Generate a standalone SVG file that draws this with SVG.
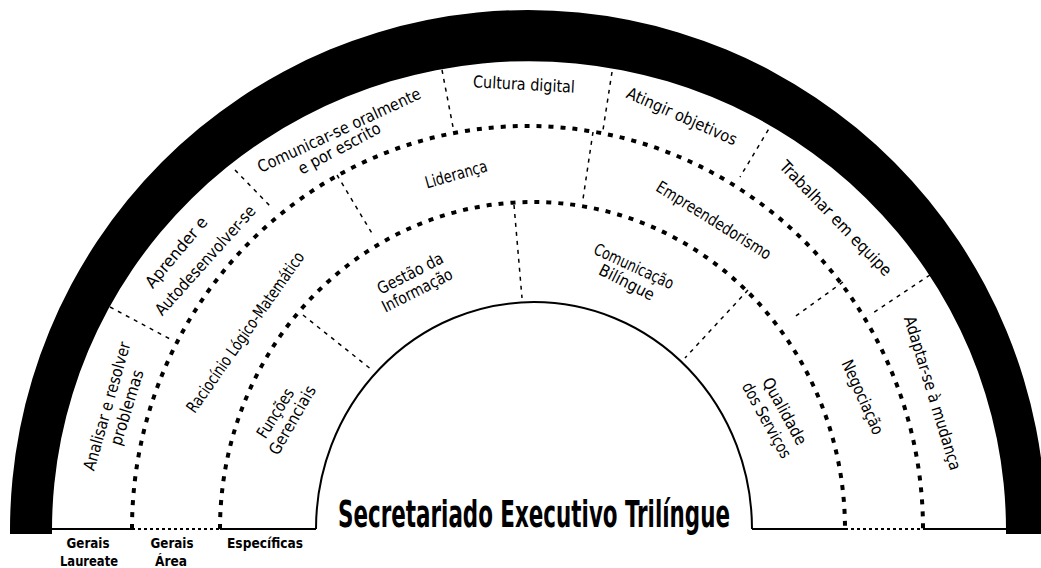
<svg xmlns="http://www.w3.org/2000/svg" width="1041" height="568" viewBox="0 0 1041 568">
<style>
.lbl{font-family:'DejaVu Sans Condensed','DejaVu Sans',sans-serif;font-stretch:condensed;font-size:16.5px;text-anchor:middle;fill:#000}
.bot{font-family:'DejaVu Sans Condensed','DejaVu Sans',sans-serif;font-stretch:condensed;font-weight:bold;font-size:13.5px;text-anchor:middle;fill:#000}
.title{font-family:'DejaVu Sans Condensed','DejaVu Sans',sans-serif;font-stretch:condensed;font-weight:bold;font-size:38px;text-anchor:middle;fill:#000}
.dots{fill:none;stroke:#000;stroke-width:4;stroke-dasharray:5 7}
.div{fill:none;stroke:#000;stroke-width:1.5;stroke-dasharray:4 5}
.solid{fill:none;stroke:#000;stroke-width:2}
.base-dash{fill:none;stroke:#000;stroke-width:2;stroke-dasharray:3 3}
</style>
<rect width="1041" height="568" fill="#fff"/>
<g id="band">
<path d="M10,534 L10,530 A518,520 0 0 1 1046,530 L1046,534 L1006,534 L1006,530 A477,469 0 0 0 52,530 L52,534 Z" fill="#000"/>
</g>
<g id="rings">
<path class="dots" d="M132,529 A395.5,403 0 0 1 923,529"/>
<path class="dots" d="M220,529 A312.5,327 0 0 1 845,529"/>
<path class="solid" d="M316,529 A218,227 0 0 1 752,529"/>
<line class="solid" x1="52" y1="529" x2="132" y2="529"/>
<line class="base-dash" x1="132" y1="529" x2="220" y2="529"/>
<line class="solid" x1="220" y1="529" x2="316" y2="529"/>
<line class="solid" x1="752" y1="529" x2="845" y2="529"/>
<line class="base-dash" x1="845" y1="529" x2="923" y2="529"/>
<line class="solid" x1="923" y1="529" x2="1006" y2="529"/>
</g>
<g id="connectors">
<line class="div" x1="110" y1="307" x2="170" y2="339"/>
<line class="div" x1="235" y1="170" x2="272" y2="208"/>
<line class="div" x1="442" y1="70" x2="453" y2="127"/>
<line class="div" x1="612" y1="72" x2="603" y2="130"/>
<line class="div" x1="773" y1="122" x2="740" y2="177"/>
<line class="div" x1="930" y1="275" x2="870" y2="315"/>
<line class="div" x1="337" y1="175" x2="373" y2="235"/>
<line class="div" x1="593" y1="132" x2="583" y2="199"/>
<line class="div" x1="843" y1="282" x2="793" y2="318"/>
<line class="div" x1="303" y1="315" x2="372" y2="370"/>
<line class="div" x1="514" y1="205" x2="522" y2="298"/>
<line class="div" x1="748" y1="290" x2="685" y2="358"/>
</g>
<g id="analisar"><text class="lbl" transform="translate(106.5,406) rotate(-74)" y="6" textLength="133" lengthAdjust="spacingAndGlyphs">Analisar e resolver</text><text class="lbl" transform="translate(126.5,407.5) rotate(-73)" y="6" textLength="78" lengthAdjust="spacingAndGlyphs">problemas</text></g>
<g id="aprender"><text class="lbl" transform="translate(176,252) rotate(-50)" y="6" textLength="87" lengthAdjust="spacingAndGlyphs">Aprender e</text><text class="lbl" transform="translate(205,260) rotate(-48)" y="6" textLength="141" lengthAdjust="spacingAndGlyphs">Autodesenvolver-se</text></g>
<g id="comunicar"><text class="lbl" transform="translate(339,130) rotate(-25)" y="6" textLength="178" lengthAdjust="spacingAndGlyphs">Comunicar-se oralmente</text><text class="lbl" transform="translate(339,148) rotate(-28)" y="6" textLength="91" lengthAdjust="spacingAndGlyphs">e por escrito</text></g>
<g id="cultura"><text class="lbl" transform="translate(524,84) rotate(3)" y="6" textLength="102" lengthAdjust="spacingAndGlyphs">Cultura digital</text></g>
<g id="atingir"><text class="lbl" transform="translate(682,116) rotate(24)" y="6" textLength="119" lengthAdjust="spacingAndGlyphs">Atingir objetivos</text></g>
<g id="trabalhar"><text class="lbl" transform="translate(836,218) rotate(46)" y="6" textLength="153" lengthAdjust="spacingAndGlyphs">Trabalhar em equipe</text></g>
<g id="adaptar"><text class="lbl" transform="translate(933,393) rotate(73)" y="6" textLength="160" lengthAdjust="spacingAndGlyphs">Adaptar-se à mudança</text></g>
<g id="raciocinio"><text class="lbl" transform="translate(245,332) rotate(-55)" y="6" textLength="192" lengthAdjust="spacingAndGlyphs">Raciocínio Lógico-Matemático</text></g>
<g id="lideranca"><text class="lbl" transform="translate(456,174) rotate(-16)" y="6" textLength="64" lengthAdjust="spacingAndGlyphs">Liderança</text></g>
<g id="empreendedorismo"><text class="lbl" transform="translate(714,220) rotate(32)" y="6" textLength="132" lengthAdjust="spacingAndGlyphs">Empreendedorismo</text></g>
<g id="negociacao"><text class="lbl" transform="translate(863,397) rotate(66)" y="6" textLength="80" lengthAdjust="spacingAndGlyphs">Negociação</text></g>
<g id="funcoes"><text class="lbl" transform="translate(275,413) rotate(-58)" y="6" textLength="55" lengthAdjust="spacingAndGlyphs">Funções</text><text class="lbl" transform="translate(292,420) rotate(-60)" y="6" textLength="77" lengthAdjust="spacingAndGlyphs">Gerenciais</text></g>
<g id="gestao"><text class="lbl" transform="translate(410,273) rotate(-27)" y="6" textLength="72" lengthAdjust="spacingAndGlyphs">Gestão da</text><text class="lbl" transform="translate(417,290) rotate(-27)" y="6" textLength="77" lengthAdjust="spacingAndGlyphs">Informação</text></g>
<g id="comunicacao"><text class="lbl" transform="translate(634,266) rotate(25)" y="6" textLength="86" lengthAdjust="spacingAndGlyphs">Comunicação</text><text class="lbl" transform="translate(627,282) rotate(27)" y="6" textLength="60" lengthAdjust="spacingAndGlyphs">Bilíngue</text></g>
<g id="qualidade"><text class="lbl" transform="translate(785,411) rotate(61)" y="6" textLength="74" lengthAdjust="spacingAndGlyphs">Qualidade</text><text class="lbl" transform="translate(767,420) rotate(61)" y="6" textLength="84" lengthAdjust="spacingAndGlyphs">dos Serviços</text></g>
<g id="legend">
<text class="bot" x="88" y="548" textLength="43" lengthAdjust="spacingAndGlyphs">Gerais</text>
<text class="bot" x="89" y="566" textLength="58" lengthAdjust="spacingAndGlyphs">Laureate</text>
<text class="bot" x="172" y="548" textLength="43" lengthAdjust="spacingAndGlyphs">Gerais</text>
<text class="bot" x="171" y="566" textLength="32" lengthAdjust="spacingAndGlyphs">Área</text>
<text class="bot" x="265" y="548" textLength="76" lengthAdjust="spacingAndGlyphs">Específicas</text>
</g>
<g id="title"><text class="title" x="534" y="527" textLength="392" lengthAdjust="spacingAndGlyphs">Secretariado Executivo Trilíngue</text></g>
</svg>
